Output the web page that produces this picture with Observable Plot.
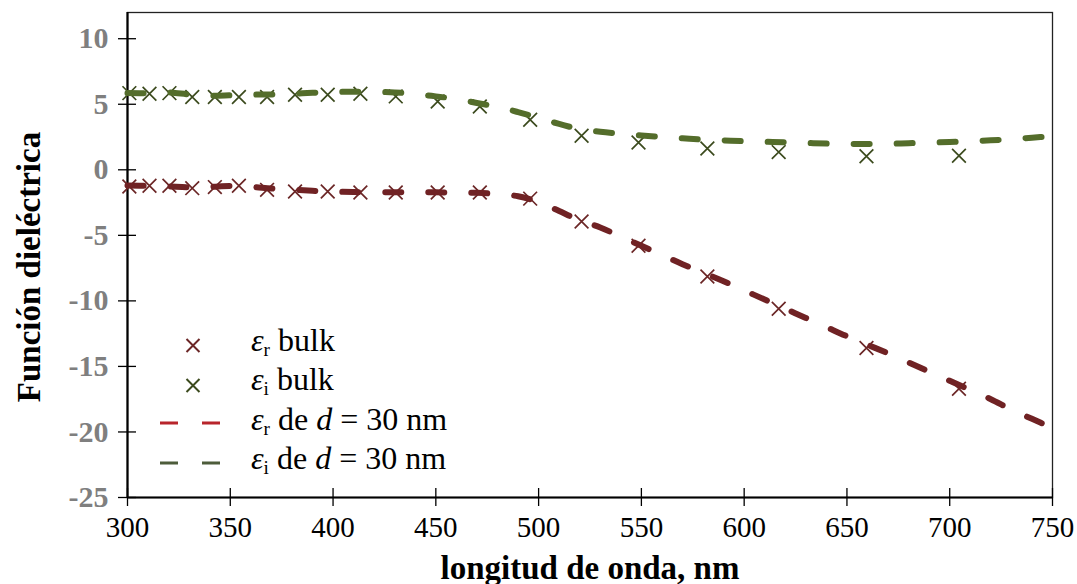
<!DOCTYPE html>
<html>
<head>
<meta charset="utf-8">
<script src="https://cdn.jsdelivr.net/npm/d3@7"></script>
<script src="https://cdn.jsdelivr.net/npm/@observablehq/plot@0.6"></script>
<style>
  html, body { margin: 0; padding: 0; background: #fff; }
  #wrap { position: relative; width: 1077px; height: 584px; font-family: "Liberation Serif", "Times New Roman", serif; }
  #legend { position: absolute; left: 150px; top: 326px; font-size: 32px; color: #000; }
  #legend .row { position: relative; height: 39.5px; width: 340px; }
  #legend svg { position: absolute; left: 0; top: 0; }
  #legend .lab { position: absolute; left: 101px; top: -2.5px; white-space: nowrap; line-height: 1; }
  #legend sub { font-size: 0.6em; vertical-align: -0.25em; line-height: 0; }
  #legend i { font-style: italic; }
</style>
</head>
<body>
<div id="wrap"></div>
<script>
// Bulk (measured) points
const bulkWl = [300.9, 310.7, 320.4, 331.5, 342.5, 354.2, 367.9, 381.5, 397.4, 413.3, 430.5, 450.9, 471.4, 495.9, 520.9, 548.6, 582.1, 616.8, 659.5, 704.5];
const bulkEr = [-1.27, -1.22, -1.22, -1.40, -1.32, -1.22, -1.53, -1.66, -1.66, -1.73, -1.73, -1.73, -1.73, -2.20, -3.95, -5.80, -8.14, -10.6, -13.6, -16.7];
const bulkEi = [5.85, 5.80, 5.85, 5.55, 5.55, 5.55, 5.55, 5.73, 5.73, 5.80, 5.60, 5.21, 4.83, 3.82, 2.60, 2.08, 1.62, 1.35, 1.04, 1.07];

// d = 30 nm curves
const fitWl = [300, 310, 320, 330, 340, 350, 360, 370, 380, 390, 400, 410, 420, 430, 440, 450, 460, 470, 480, 490, 500, 510, 520, 530, 540, 550, 560, 570, 580, 590, 600, 610, 620, 630, 640, 650, 660, 670, 680, 690, 700, 710, 720, 730, 740, 750];
const fitEr = [-1.20, -1.22, -1.27, -1.33, -1.30, -1.24, -1.30, -1.43, -1.52, -1.60, -1.66, -1.70, -1.71, -1.72, -1.72, -1.72, -1.74, -1.76, -1.84, -2.02, -2.45, -3.15, -3.85, -4.40, -5.10, -5.80, -6.50, -7.20, -7.85, -8.50, -9.20, -9.90, -10.6, -11.3, -12.0, -12.7, -13.35, -14.0, -14.7, -15.4, -16.1, -16.8, -17.5, -18.3, -19.0, -19.7];
const fitEi = [5.85, 5.85, 5.90, 5.75, 5.65, 5.68, 5.73, 5.75, 5.80, 5.87, 5.93, 5.96, 5.95, 5.90, 5.78, 5.60, 5.40, 5.10, 4.80, 4.40, 3.95, 3.50, 3.10, 2.90, 2.75, 2.62, 2.50, 2.40, 2.30, 2.24, 2.18, 2.14, 2.10, 2.05, 2.00, 1.98, 1.97, 1.98, 2.03, 2.07, 2.12, 2.18, 2.25, 2.34, 2.45, 2.56];

const xTicks = [300, 350, 400, 450, 500, 550, 600, 650, 700, 750];
const yTicks = [-25, -20, -15, -10, -5, 0, 5, 10];

const xTitle = "longitud de onda, nm";
const yTitle = "Función dieléctrica";

const seriesNames = ["εr bulk", "εi bulk", "εr de d = 30 nm", "εi de d = 30 nm"];

const colRedMark = "#6b2626";
const colGreenMark = "#3b4a1d";
const colRedLine = "#702224";
const colGreenLine = "#546d2b";
const colRedLegend = "#b8252b";
const colGreenLegend = "#4d5c3a";

const bulkR = bulkWl.map((w, i) => ({w, v: bulkEr[i]}));
const bulkI = bulkWl.map((w, i) => ({w, v: bulkEi[i]}));
const fitR = fitWl.map((w, i) => ({w, v: fitEr[i]}));
const fitI = fitWl.map((w, i) => ({w, v: fitEi[i]}));

const font = "Liberation Serif, Times New Roman, serif";

const chart = Plot.plot({
  width: 1077,
  height: 584,
  marginLeft: 127,
  marginRight: 25,
  marginTop: 12,
  marginBottom: 87,
  style: {fontFamily: font, background: "#fff", overflow: "visible"},
  x: {domain: [300, 750]},
  y: {domain: [-25, 12]},
  marks: [
    Plot.frame({stroke: "#222", strokeWidth: 1.3}),
    // tick marks crossing the axes
    Plot.axisX(xTicks, {tickSize: 18, dy: -9, tickFormat: () => "", label: null, stroke: "#000", strokeWidth: 1.3}),
    Plot.axisY(yTicks, {tickSize: 18, dx: 9, tickFormat: () => "", label: null, stroke: "#000", strokeWidth: 1.3}),
    // tick labels
    Plot.axisX(xTicks, {tickSize: 0, tickPadding: 19, label: null, tickFormat: d => String(d), fontSize: 29, fill: "#000", fontFamily: font}),
    Plot.axisY(yTicks, {tickSize: 0, tickPadding: 19, label: null, tickFormat: d => String(d), fontSize: 30, fontWeight: "bold", fill: "#7f7f7f", fontFamily: font}),
    // axis lines
    Plot.ruleX([300], {stroke: "#000", strokeWidth: 2.2}),
    Plot.ruleY([-25], {stroke: "#000", strokeWidth: 2.2}),
    // bulk points
    Plot.dot(bulkR, {x: "w", y: "v", symbol: "times", r: 6.3, stroke: colRedMark, strokeWidth: 1.7}),
    Plot.dot(bulkI, {x: "w", y: "v", symbol: "times", r: 6.3, stroke: colGreenMark, strokeWidth: 1.7}),
    // d = 30 nm dashed curves
    Plot.line(fitI, {x: "w", y: "v", curve: "catmull-rom", stroke: colGreenLine, strokeWidth: 6, strokeDasharray: "16 27", strokeLinecap: "round"}),
    Plot.line(fitR, {x: "w", y: "v", curve: "catmull-rom", stroke: colRedLine, strokeWidth: 6, strokeDasharray: "16 27", strokeLinecap: "round"}),
    // axis titles
    Plot.text([xTitle], {frameAnchor: "bottom", dy: 81, lineAnchor: "bottom", textAnchor: "middle", fontSize: 33, fontWeight: "bold", fill: "#000", fontFamily: font}),
    Plot.text([yTitle], {frameAnchor: "left", dx: -98, dy: 12, rotate: -90, lineAnchor: "middle", textAnchor: "middle", fontSize: 33, fontWeight: "bold", fill: "#000", fontFamily: font})
  ]
});

const wrap = document.getElementById("wrap");
wrap.appendChild(chart);

// Legend (inside plot area)
const legend = document.createElement("div");
legend.id = "legend";
const entries = [
  {kind: "mark", color: colRedMark, sub: "r", rest: " bulk"},
  {kind: "mark", color: colGreenMark, sub: "i", rest: " bulk"},
  {kind: "dash", color: colRedLegend, sub: "r", rest: " de <i>d</i> = 30 nm"},
  {kind: "dash", color: colGreenLegend, sub: "i", rest: " de <i>d</i> = 30 nm"}
];
entries.forEach((e, idx) => {
  const row = document.createElement("div");
  row.className = "row";
  row.title = seriesNames[idx];
  let sym;
  if (e.kind === "mark") {
    sym = `<svg width="90" height="39"><path d="M36.5,13 L49.5,26 M49.5,13 L36.5,26" stroke="${e.color}" stroke-width="2"/></svg>`;
  } else {
    sym = `<svg width="90" height="39"><line x1="10" y1="18" x2="70" y2="18" stroke="${e.color}" stroke-width="3" stroke-dasharray="18 24"/></svg>`;
  }
  row.innerHTML = sym + `<span class="lab"><i>ε</i><sub>${e.sub}</sub>${e.rest}</span>`;
  legend.appendChild(row);
});
wrap.appendChild(legend);
</script>
</body>
</html>
